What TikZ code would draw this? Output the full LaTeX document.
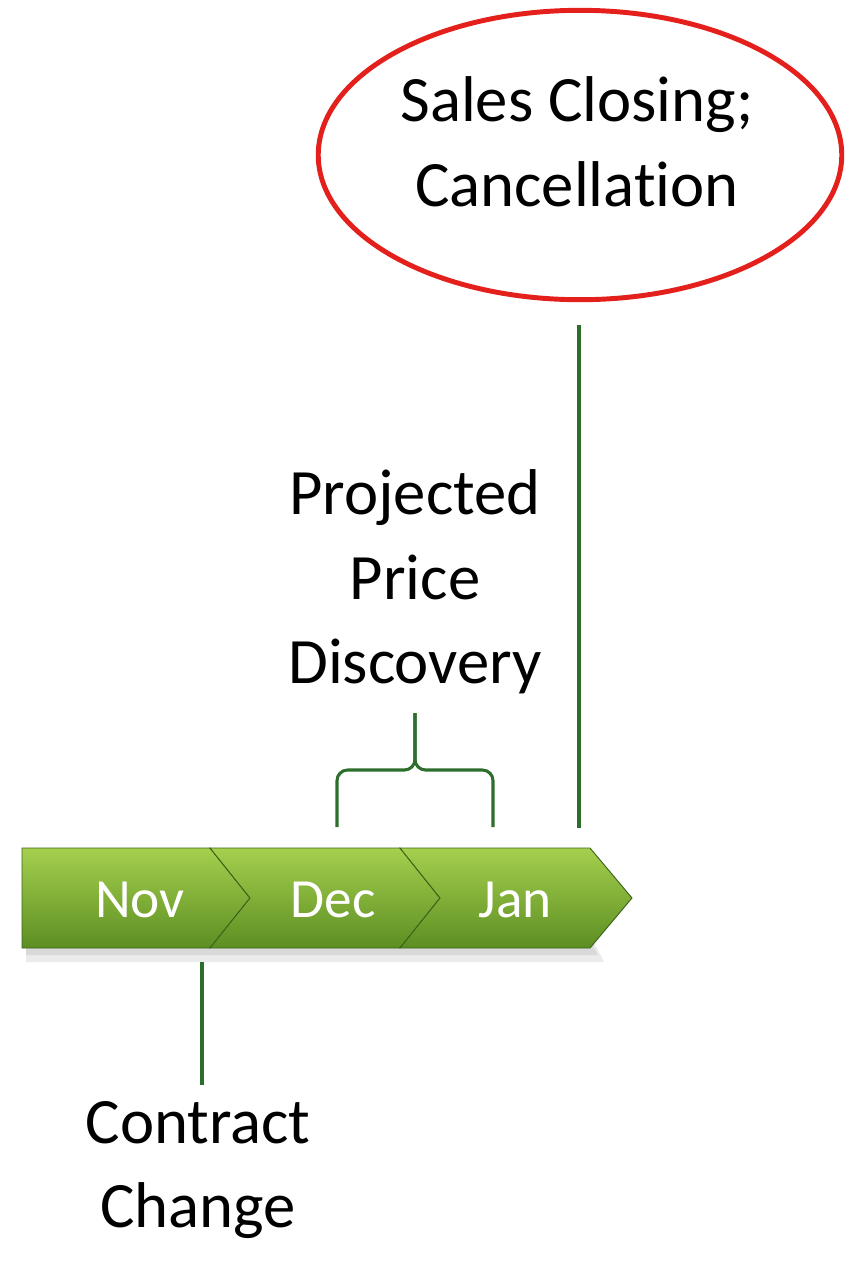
\documentclass[tikz,border=0pt]{standalone}
\usepackage{fontspec}
\setmainfont{Carlito}[Ligatures=NoCommon]
\usetikzlibrary{shapes.geometric}
\definecolor{linkgreen}{RGB}{45,110,45}
\definecolor{ringred}{RGB}{228,32,28}
\definecolor{barlight}{RGB}{165,208,78}
\definecolor{bardark}{RGB}{92,142,34}
\definecolor{baredge}{RGB}{60,100,25}
\begin{document}
\begin{tikzpicture}[x=0.85pt, y=-0.85pt,
  big text/.style={font=\fontsize{55}{72}\selectfont, align=center, inner sep=0pt},
  month/.style={font=\fontsize{47}{56}\selectfont, text=white, inner sep=0pt},
  chevron/.style={top color=barlight, bottom color=bardark, draw=baredge, line width=0.8pt},
  link/.style={draw=linkgreen, line width=2.6pt}]
\useasboundingbox (0,0) rectangle (865,1273);
% soft shadow under the bar
\fill[black, opacity=0.08] (26,942) -- (594,942) -- (604,962) -- (26,962) -- cycle;
\fill[black, opacity=0.08] (26,944) -- (592,944) -- (598,955) -- (26,955) -- cycle;
% the three months
\path[chevron] (22,848) -- (210,848) -- (250,898) -- (210,948) -- (22,948) -- cycle;
\path[chevron] (210,848) -- (400,848) -- (440,898) -- (400,948) -- (210,948) -- (250,898) -- cycle;
\path[chevron] (400,848) -- (590,848) -- (632,898) -- (590,948) -- (400,948) -- (440,898) -- cycle;
\begin{scope}[every node/.style={month}]
\node (nov) at (140,900) {Nov};
\node (dec) at (333,900) {Dec};
\node (jan) at (515,900) {Jan};
\end{scope}
% labels
\node [ellipse, draw=ringred, line width=4.2pt, minimum width=445pt, minimum height=246pt, inner sep=0pt] (ring) at (580,155) {};
\node [big text] (sales) at (577,142) {Sales Closing;\\Cancellation};
\node [big text] (price) at (415,582) {Projected\\Price\\Discovery};
\node [big text] (contract) at (198,1170) {Contract\\Change};
\coordinate (sales foot) at (579,325);
\coordinate (jan top) at (579,828);
\coordinate (nov foot) at (202,962);
\coordinate (contract top) at (202,1085);
\coordinate (brace tip) at (415,713);
\coordinate (brace mid) at (415,770);
\coordinate (brace left) at (337,827);
\coordinate (brace right) at (493,827);
\path[link]
    (sales foot) edge (jan top)
    (nov foot) edge (contract top)
         ;
\draw[link, rounded corners=9pt] (brace left) |- (brace mid) -- (brace tip);
\draw[link, rounded corners=9pt] (brace right) |- (brace mid) -- (brace tip);
\end{tikzpicture}
\end{document}
